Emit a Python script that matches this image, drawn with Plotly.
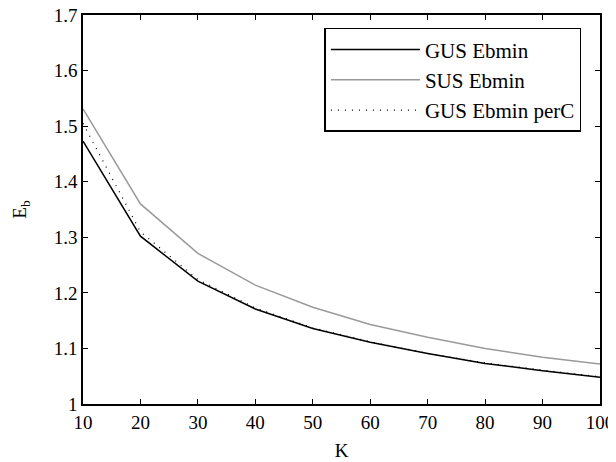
import plotly.graph_objects as go

K = [10, 20, 30, 40, 50, 60, 70, 80, 90, 100]
gus_ebmin = [1.473, 1.302, 1.221, 1.171, 1.136, 1.111, 1.091, 1.073, 1.060, 1.048]
sus_ebmin = [1.531, 1.360, 1.271, 1.214, 1.174, 1.143, 1.120, 1.100, 1.084, 1.072]
gus_ebmin_perc = [1.505, 1.310, 1.224, 1.173, 1.137, 1.112, 1.091, 1.074, 1.061, 1.049]

x_ticks = [10, 20, 30, 40, 50, 60, 70, 80, 90, 100]
y_ticks = [1, 1.1, 1.2, 1.3, 1.4, 1.5, 1.6, 1.7]
y_tick_labels = ["1", "1.1", "1.2", "1.3", "1.4", "1.5", "1.6", "1.7"]

font = "Liberation Serif, Times New Roman, serif"
fs = 19
fs_leg = 21

fig = go.Figure()
fig.add_trace(go.Scatter(x=K, y=gus_ebmin, mode="lines", name="GUS Ebmin",
                         line=dict(color="black", width=1.5)))
fig.add_trace(go.Scatter(x=K, y=sus_ebmin, mode="lines", name="SUS Ebmin",
                         line=dict(color="#9a9a9a", width=1.5)))
fig.add_trace(go.Scatter(x=K, y=gus_ebmin_perc, mode="lines", name="GUS Ebmin perC",
                         line=dict(color="black", width=1.2, dash="1px,6px")))

axis_common = dict(showgrid=False, zeroline=False, showline=True, linecolor="black",
                   linewidth=1.5, mirror="ticks", ticks="inside", ticklen=5,
                   tickcolor="black", tickwidth=1, automargin=False,
                   ticklabeloverflow="allow",
                   tickfont=dict(family=font, size=fs, color="black"))

fig.update_layout(
    width=608, height=454,
    margin=dict(l=75, r=16, t=7, b=58),
    paper_bgcolor="white", plot_bgcolor="white",
    font=dict(family=font, size=fs, color="black"),
    xaxis=dict(range=[10, 100], tickvals=x_ticks,
               title=dict(text="K", font=dict(family=font, size=fs), standoff=12),
               **axis_common),
    yaxis=dict(range=[1, 1.7], tickvals=y_ticks, ticktext=y_tick_labels,
               title=dict(text="E<sub>b</sub>", font=dict(family=font, size=fs), standoff=22),
               **axis_common),
    legend=dict(x=0.467, y=0.967, xanchor="left", yanchor="top",
                bgcolor="white", bordercolor="black", borderwidth=1.5,
                font=dict(family=font, size=fs_leg, color="black"),
                itemwidth=89),
    showlegend=True,
)

fig.write_html("out.html")
